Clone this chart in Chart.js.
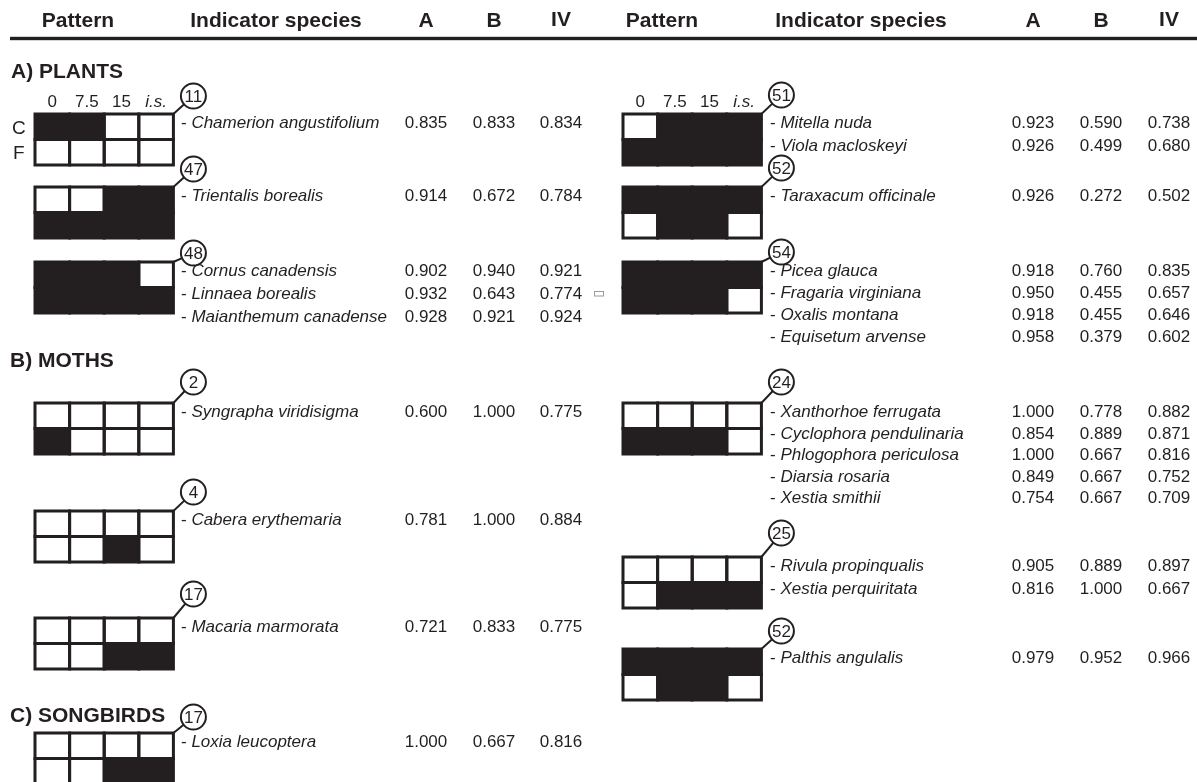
<!DOCTYPE html>
<html>
<head>
<meta charset="utf-8">
<title>Indicator species by pattern</title>
<script src="https://cdn.jsdelivr.net/npm/chart.js@4.4.1/dist/chart.umd.min.js"></script>
<style>
  html, body { margin: 0; padding: 0; background: #ffffff; }
  #wrap { width: 1197px; height: 782px; }
</style>
</head>
<body>
<div id="wrap"><canvas id="chart" width="1197" height="782"></canvas></div>
<script>
// Indicator species table: pattern grids (C/F rows x 0, 7.5, 15, i.s.) + A, B, IV

const headerLabels = ['Pattern', 'Indicator species', 'A', 'B', 'IV'];
const groupTitles = ['A) PLANTS', 'B) MOTHS', 'C) SONGBIRDS'];
const columnLabels = ['0', '7.5', '15', 'i.s.'];
const rowLabels = ['C', 'F'];

// one entry per pattern block, cells left to right, C row then F row (1 = black)
const patternIds = [11, 47, 48, 2, 4, 17, 17, 51, 52, 54, 24, 25, 52];
const patternCells = [
  '1100 0000', '0011 1111', '1110 1111', '0000 1000', '0000 0010', '0000 0011', '0000 0011',
  '0111 1111', '1111 0110', '1111 1110', '0000 1110', '0000 0111', '1111 0110'
];

// species rows and the pattern block each belongs to
const speciesNames = [
  'Chamerion angustifolium', 'Trientalis borealis', 'Cornus canadensis', 'Linnaea borealis',
  'Maianthemum canadense', 'Syngrapha viridisigma', 'Cabera erythemaria', 'Macaria marmorata',
  'Loxia leucoptera', 'Mitella nuda', 'Viola macloskeyi', 'Taraxacum officinale',
  'Picea glauca', 'Fragaria virginiana', 'Oxalis montana', 'Equisetum arvense',
  'Xanthorhoe ferrugata', 'Cyclophora pendulinaria', 'Phlogophora periculosa', 'Diarsia rosaria',
  'Xestia smithii', 'Rivula propinqualis', 'Xestia perquiritata', 'Palthis angulalis'
];
const speciesBlock = [0, 1, 2, 2, 2, 3, 4, 5, 6, 7, 7, 8, 9, 9, 9, 9, 10, 10, 10, 10, 10, 11, 11, 12];
const valuesA = [0.835, 0.914, 0.902, 0.932, 0.928, 0.600, 0.781, 0.721, 1.000, 0.923, 0.926, 0.926,
  0.918, 0.950, 0.918, 0.958, 1.000, 0.854, 1.000, 0.849, 0.754, 0.905, 0.816, 0.979];
const valuesB = [0.833, 0.672, 0.940, 0.643, 0.921, 1.000, 1.000, 0.833, 0.667, 0.590, 0.499, 0.272,
  0.760, 0.455, 0.455, 0.379, 0.778, 0.889, 0.667, 0.667, 0.667, 0.889, 1.000, 0.952];
const valuesIV = [0.834, 0.784, 0.921, 0.774, 0.924, 0.775, 0.884, 0.775, 0.816, 0.738, 0.680, 0.502,
  0.835, 0.657, 0.646, 0.602, 0.882, 0.871, 0.816, 0.752, 0.709, 0.897, 0.667, 0.966];

// layout (chart units = pixels)
const blockPanel = [0, 0, 0, 0, 0, 0, 0, 1, 1, 1, 1, 1, 1];
const blockTop = [114, 187, 262, 403, 511, 618, 733, 114, 187, 262, 403, 557, 649];
const blockBadgeY = [96, 169, 253, 382, 492, 594, 717, 95, 168, 252, 382, 533, 631];
const blockRowGap = [23, 23, 23, 23, 23, 23, 23, 23.3, 23, 22, 21.5, 23, 23];
const groupTitleY = [78, 367, 722];
const gridLeft = [35, 623];
const speciesX = [181, 770];
const headerX = [[78, 276, 426, 494, 561], [662, 861, 1033, 1101, 1169]];
const cellW = 34.6;
const cellH = 25.5;
const badgeR = 12.5;
const ink = '#231f20';
const fontName = "'Liberation Sans', Arial, sans-serif";

// cell centres built from the pattern strings
const cellPoints = [];
patternCells.forEach((p, b) => {
  const rows = p.split(' ');
  rows.forEach((row, r) => {
    row.split('').forEach((v, c) => {
      cellPoints.push({
        x: gridLeft[blockPanel[b]] + (c + 0.5) * cellW,
        y: blockTop[b] + (r + 0.5) * cellH,
        on: v === '1'
      });
    });
  });
});

const tablePlugin = {
  id: 'indicatorTable',
  afterDatasetsDraw(chart) {
    const ctx = chart.ctx;
    const sx = chart.scales.x, sy = chart.scales.y;
    const px = v => sx.getPixelForValue(v);
    const py = v => sy.getPixelForValue(v);
    const w = px(cellW) - px(0), h = py(cellH) - py(0);

    ctx.save();
    ctx.fillStyle = ink;
    ctx.strokeStyle = ink;

    // header rule and header labels
    ctx.fillRect(px(10), py(36.8), px(1197) - px(10), py(40.2) - py(36.8));
    ctx.font = 'bold 21px ' + fontName;
    ctx.textAlign = 'center';
    ctx.textBaseline = 'alphabetic';
    headerX.forEach(cols => {
      cols.forEach((x, i) => {
        ctx.fillText(headerLabels[i], px(x), py(i === 4 ? 26 : 27));
      });
    });

    // group titles
    ctx.textAlign = 'left';
    groupTitles.forEach((t, i) => ctx.fillText(t, px(i === 0 ? 11 : 10), py(groupTitleY[i])));

    // pattern cells from dataset elements
    const meta = chart.getDatasetMeta(0);
    meta.data.forEach((el, i) => {
      ctx.fillStyle = cellPoints[i].on ? ink : '#ffffff';
      ctx.fillRect(el.x - w / 2, el.y - h / 2, w, h);
    });
    ctx.lineWidth = 3;
    meta.data.forEach(el => ctx.strokeRect(el.x - w / 2, el.y - h / 2, w, h));
    ctx.fillStyle = ink;

    // column labels above the first grid of each panel, row labels on the left
    ctx.font = '17px ' + fontName;
    ctx.textAlign = 'center';
    [0, 7].forEach(b => {
      columnLabels.forEach((lab, c) => {
        ctx.font = (lab === 'i.s.' ? 'italic ' : '') + '17px ' + fontName;
        ctx.fillText(lab, px(gridLeft[blockPanel[b]] + (c + 0.5) * cellW), py(107));
      });
    });
    ctx.font = '19px ' + fontName;
    ctx.textAlign = 'left';
    ctx.fillText(rowLabels[0], px(12), py(134));
    ctx.fillText(rowLabels[1], px(13), py(158.5));

    // numbered badges with connector
    patternIds.forEach((id, b) => {
      const cx0 = gridLeft[blockPanel[b]] + 4 * cellW;
      const cy0 = blockTop[b];
      const bx = cx0 + 20, by = blockBadgeY[b];
      const dx = cx0 - bx, dy = cy0 - by;
      const len = Math.hypot(dx, dy);
      ctx.lineWidth = 2;
      ctx.beginPath();
      ctx.moveTo(px(bx + dx / len * badgeR), py(by + dy / len * badgeR));
      ctx.lineTo(px(cx0), py(cy0));
      ctx.stroke();
      ctx.beginPath();
      ctx.arc(px(bx), py(by), badgeR, 0, Math.PI * 2);
      ctx.fillStyle = '#ffffff';
      ctx.fill();
      ctx.stroke();
      ctx.fillStyle = ink;
      ctx.font = '17px ' + fontName;
      ctx.textAlign = 'center';
      ctx.fillText(String(id), px(bx), py(by + 6));
    });

    // species rows
    const seen = {};
    speciesNames.forEach((name, i) => {
      const b = speciesBlock[i];
      const k = seen[b] || 0;
      seen[b] = k + 1;
      const p = blockPanel[b];
      const y = py(blockTop[b] + 14 + k * blockRowGap[b]);
      ctx.textAlign = 'left';
      ctx.font = '17px ' + fontName;
      ctx.fillText('- ', px(speciesX[p]), y);
      const dash = ctx.measureText('- ').width;
      ctx.font = 'italic 17px ' + fontName;
      ctx.fillText(name, px(speciesX[p]) + dash, y);
      ctx.font = '17px ' + fontName;
      ctx.textAlign = 'center';
      [valuesA[i], valuesB[i], valuesIV[i]].forEach((v, j) => {
        ctx.fillText(v.toFixed(3), px(headerX[p][j + 2]), y);
      });
    });

    // small stray mark between panels
    ctx.lineWidth = 1;
    ctx.strokeStyle = '#9a9a9a';
    ctx.strokeRect(px(594.5), py(291.5), 9, 4.5);
    ctx.restore();
  }
};

new Chart(document.getElementById('chart'), {
  type: 'scatter',
  data: {
    datasets: [{
      label: 'cells',
      data: cellPoints,
      pointRadius: 0,
      pointHoverRadius: 0
    }]
  },
  options: {
    responsive: false,
    animation: false,
    events: [],
    layout: { padding: 0 },
    plugins: { legend: { display: false }, tooltip: { enabled: false } },
    scales: {
      x: { type: 'linear', min: 0, max: 1197, display: false },
      y: { type: 'linear', min: 0, max: 782, reverse: true, display: false }
    }
  },
  plugins: [tablePlugin]
});
</script>
</body>
</html>
